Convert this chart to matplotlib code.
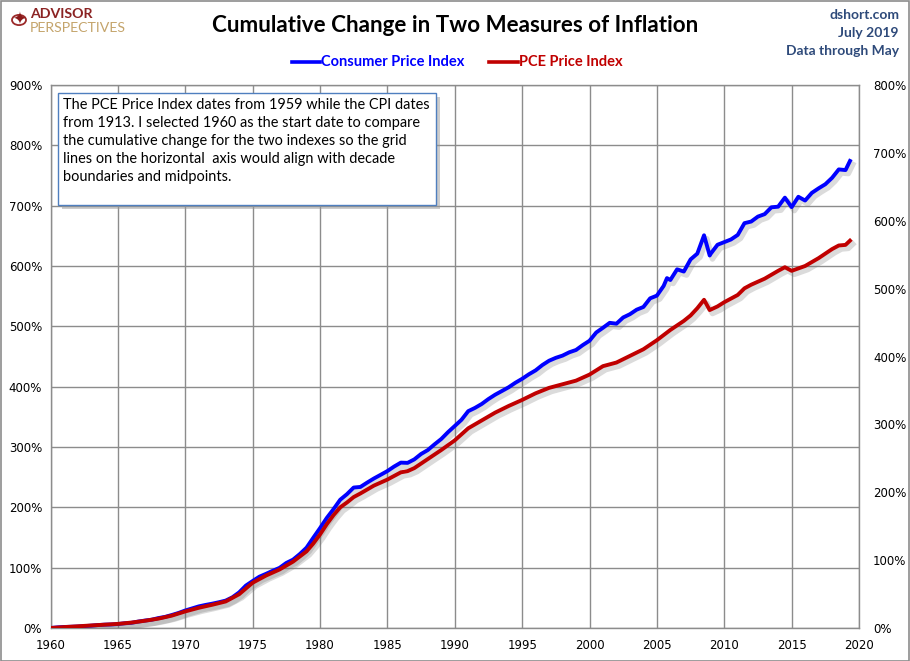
import matplotlib
matplotlib.use("Agg")
import matplotlib.pyplot as plt
import matplotlib.patheffects as pe
from matplotlib.patches import Rectangle, Circle
from matplotlib.lines import Line2D

# ---------------- data ----------------
cpi_x = [1960.0, 1960.5, 1961.0, 1961.5, 1962.0, 1962.5, 1963.0, 1963.5, 1964.0, 1964.5,
         1965.0, 1965.5, 1966.0, 1966.5, 1967.0, 1967.5, 1968.0, 1968.5, 1969.0, 1969.5,
         1970.0, 1970.5, 1971.0, 1971.5, 1972.0, 1972.5, 1973.0, 1973.5, 1974.0, 1974.5,
         1975.0, 1975.5, 1976.0, 1976.5, 1977.0, 1977.5, 1978.0, 1978.5, 1979.0, 1979.5,
         1980.0, 1980.5, 1981.0, 1981.5, 1982.0, 1982.5, 1983.0, 1983.5, 1984.0, 1984.5,
         1985.0, 1985.5, 1986.0, 1986.5, 1987.0, 1987.5, 1988.0, 1988.5, 1989.0, 1989.5,
         1990.0, 1990.5, 1991.0, 1991.5, 1992.0, 1992.5, 1993.0, 1993.5, 1994.0, 1994.5,
         1995.0, 1995.5, 1996.0, 1996.5, 1997.0, 1997.5, 1998.0, 1998.5, 1999.0, 1999.5,
         2000.0, 2000.5, 2001.0, 2001.5, 2002.0, 2002.5, 2003.0, 2003.5, 2004.0, 2004.5,
         2005.0, 2005.5, 2005.75, 2006.0, 2006.5, 2007.0, 2007.5, 2008.0, 2008.5, 2008.92,
         2009.0, 2009.5, 2010.0, 2010.5, 2011.0, 2011.5, 2012.0, 2012.5, 2013.0, 2013.5,
         2014.0, 2014.5, 2015.0, 2015.5, 2016.0, 2016.5, 2017.0, 2017.5, 2018.0, 2018.5,
         2019.0, 2019.33]
cpi_pct = [0.0, 1.0, 1.7, 2.0, 2.4, 3.1, 3.8, 4.8, 5.5, 5.8,
           6.5, 7.8, 8.5, 10.6, 12.3, 13.7, 16.4, 18.4, 21.5, 24.9,
           29.0, 32.4, 35.8, 38.2, 40.3, 42.7, 45.4, 50.9, 59.0, 70.3,
           77.8, 85.0, 89.8, 94.9, 99.7, 107.8, 113.3, 122.5, 133.1, 149.5,
           165.5, 182.3, 196.9, 212.6, 221.8, 232.8, 233.8, 241.0, 247.8, 253.9,
           260.1, 267.6, 274.1, 273.7, 279.5, 288.4, 294.9, 304.4, 313.3, 324.6,
           334.8, 345.1, 359.4, 364.8, 371.3, 379.5, 386.7, 392.8, 399.0, 406.5,
           413.0, 420.5, 427.0, 435.8, 443.0, 447.8, 451.5, 457.0, 460.8, 468.9,
           476.1, 489.8, 497.6, 505.8, 504.4, 514.7, 520.1, 527.6, 532.1, 546.4,
           550.9, 566.9, 579.9, 576.8, 594.5, 590.8, 610.9, 620.5, 650.9, 617.4,
           620.5, 635.2, 639.6, 644.0, 651.5, 671.0, 673.7, 681.9, 686.0, 697.3,
           698.3, 713.3, 697.6, 714.7, 708.5, 721.2, 728.7, 735.5, 746.1, 760.1,
           759.0, 774.1]

pce_x = [1960.0, 1961.0, 1962.0, 1963.0, 1964.0, 1965.0, 1966.0, 1967.0, 1968.0, 1969.0,
         1970.0, 1971.0, 1972.0, 1973.0, 1974.0, 1975.0, 1976.0, 1977.0, 1978.0, 1979.0,
         1979.5, 1980.0, 1980.5, 1981.0, 1981.5, 1982.0, 1982.5, 1983.0, 1984.0, 1985.0,
         1986.0, 1986.5, 1987.0, 1988.0, 1989.0, 1990.0, 1991.0, 1992.0, 1993.0, 1994.0,
         1995.0, 1996.0, 1997.0, 1998.0, 1999.0, 2000.0, 2001.0, 2002.0, 2003.0, 2004.0,
         2005.0, 2006.0, 2007.0, 2007.5, 2008.0, 2008.5, 2008.92, 2009.5, 2010.0, 2011.0,
         2011.5, 2012.0, 2013.0, 2014.0, 2014.5, 2015.0, 2016.0, 2017.0, 2018.0, 2018.5,
         2019.0, 2019.33]
pce_pct = [0.0, 1.5, 2.8, 4.2, 5.5, 6.8, 9.0, 12.0, 15.5, 20.5,
           27.5, 33.5, 38.5, 44.0, 56.0, 75.0, 87.0, 97.0, 110.0, 127.0,
           140.0, 155.0, 172.0, 187.0, 200.0, 208.0, 217.0, 223.0, 236.0, 246.0,
           258.0, 260.0, 265.0, 280.0, 295.0, 311.0, 331.0, 344.0, 357.0, 368.0,
           378.0, 389.0, 398.0, 404.0, 410.0, 420.0, 434.0, 440.0, 451.0, 462.0,
           477.0, 494.0, 509.0, 518.0, 530.0, 544.0, 527.0, 533.0, 540.0, 552.0,
           563.0, 569.0, 579.0, 592.0, 598.0, 592.0, 600.0, 613.0, 628.0, 634.0,
           635.0, 642.0]

x_ticks = [1960, 1965, 1970, 1975, 1980, 1985, 1990, 1995, 2000, 2005, 2010, 2015, 2020]
left_ticks = [0, 100, 200, 300, 400, 500, 600, 700, 800, 900]
right_ticks = [0, 100, 200, 300, 400, 500, 600, 700, 800]

title = "Cumulative Change in Two Measures of Inflation"
series_names = ["Consumer Price Index", "PCE Price Index"]
note = ("The PCE Price Index dates from 1959 while the CPI dates\n"
        "from 1913. I selected 1960 as the start date to compare\n"
        "the cumulative change for the two indexes so the grid\n"
        "lines on the horizontal  axis would align with decade\n"
        "boundaries and midpoints.")
source_lines = ["dshort.com", "July 2019", "Data through May"]

BLUE = "#0000FF"
RED = "#C00000"
GRID = "#8C8C8C"

W, H = 910, 661
fig = plt.figure(figsize=(W / 100, H / 100), dpi=100)
fig.patch.set_facecolor("white")
fig.patches.append(Rectangle((0.5 / W, 0.5 / H), 1 - 1.5 / W, 1 - 1.5 / H,
                             transform=fig.transFigure, fill=False,
                             edgecolor="#8C8C8C", linewidth=1.2))

L, R, T, B = 50.5, 859, 85, 628
ax = fig.add_axes([L / W, 1 - B / H, (R - L) / W, (B - T) / H])
ax.set_xlim(1960, 2020)
ax.set_ylim(0, 900)
ax.set_xticks(x_ticks)
ax.set_yticks(left_ticks)
ax.set_xticklabels([str(t) for t in x_ticks])
ax.set_yticklabels([f"{t}%" for t in left_ticks])
ax.grid(True, color=GRID, linewidth=1.0)
ax.set_axisbelow(True)
for s in ax.spines.values():
    s.set_color(GRID)
    s.set_linewidth(1.0)
ax.tick_params(axis="both", length=0, labelsize=8.5, colors="black", pad=6)
ax.tick_params(axis="x", pad=8)

shadow = [pe.SimpleLineShadow(offset=(2.0, -2.5), shadow_color="#707070", alpha=0.25, linewidth=4.0),
          pe.Normal()]
ax.plot(cpi_x, cpi_pct, color=BLUE, linewidth=2.8, solid_joinstyle="round",
        path_effects=shadow, zorder=3)
ax.plot(pce_x, pce_pct, color=RED, linewidth=2.8, solid_joinstyle="round",
        path_effects=shadow, zorder=4)

ax2 = ax.twinx()
ax2.set_ylim(0, 800)
ax2.set_yticks(right_ticks)
ax2.set_yticklabels([f"{t}%" for t in right_ticks])
ax2.tick_params(axis="y", length=0, labelsize=8.5, pad=10)
for s in ax2.spines.values():
    s.set_visible(False)

# title
fig.text(455 / W, 1 - 26 / H, title, ha="center", va="center",
         fontsize=16.1, fontweight="bold", family="Lato", color="black")

# legend
def legend_item(x0, x1, color, label):
    fig.lines.append(Line2D([x0 / W, x1 / W], [1 - 62 / H, 1 - 62 / H],
                            transform=fig.transFigure, color=color, linewidth=2.6))
    fig.text((x1 + 1) / W, 1 - 62 / H, label, ha="left", va="center",
             fontsize=10.5, fontweight="bold", family="Lato", color=color)

legend_item(292, 320, BLUE, series_names[0])
legend_item(489, 518, RED, series_names[1])

# source text
for i, s in enumerate(source_lines):
    fig.text(899 / W, 1 - (15 + 18 * i) / H, s, ha="right", va="center",
             fontsize=10, fontweight="bold", family="Lato", color="#2E4A7A")

# logo
fig.patches.append(Circle((19 / W, 1 - 20 / H), 7 / W, transform=fig.transFigure,
                          facecolor="none", edgecolor="#9B2A2A", linewidth=1.3))
fig.text(19 / W, 1 - 20 / H, "\u2726", ha="center", va="center", fontsize=12,
         color="#8B1A1A", family="DejaVu Sans")
fig.text(30 / W, 1 - 13.5 / H, "ADVISOR", ha="left", va="center", fontsize=10.2,
         fontweight="bold", family="Lato", color="#8B2323")
fig.text(30 / W, 1 - 27.5 / H, "PERSPECTIVES", ha="left", va="center", fontsize=10.2,
         family="Lato", color="#C4A46B")

# note box
bx0, bx1, by0, by1 = 58, 436, 93, 205
fig.patches.append(Rectangle(((bx0 + 4) / W, 1 - (by1 + 4) / H), (bx1 - bx0) / W, (by1 - by0) / H,
                             transform=fig.transFigure, facecolor="#9A9A9A", edgecolor="none",
                             alpha=0.5, zorder=5))
fig.patches.append(Rectangle((bx0 / W, 1 - by1 / H), (bx1 - bx0) / W, (by1 - by0) / H,
                             transform=fig.transFigure, facecolor="white", edgecolor="#4F7FBF",
                             linewidth=1.0, zorder=6))
fig.text(63 / W, 1 - 98 / H, note, ha="left", va="top", fontsize=10.45, family="Lato",
         color="black", linespacing=1.37, zorder=7)

fig.savefig("out.png", dpi=100)
